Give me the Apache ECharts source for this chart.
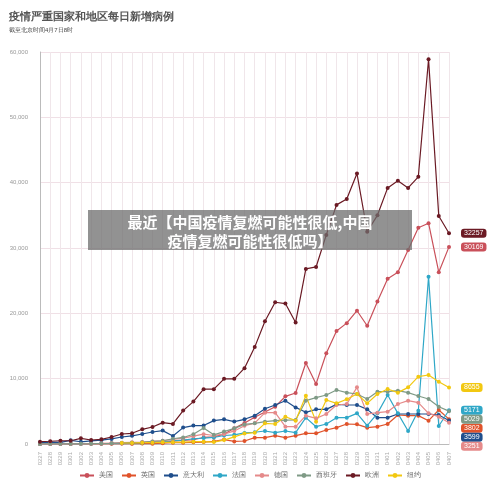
<!DOCTYPE html>
<html><head><meta charset="utf-8">
<script src="https://cdn.jsdelivr.net/npm/echarts@6/dist/echarts.min.js"></script>
<style>html,body{margin:0;padding:0;background:#fff}#c{width:500px;height:490px}</style>
</head><body><div id="c"></div>
<script>
const dates = ['0227','0228','0229','0301','0302','0303','0304','0305','0306','0307','0308','0309','0310','0311','0312','0313','0314','0315','0316','0317','0318','0319','0320','0321','0322','0323','0324','0325','0326','0327','0328','0329','0330','0331','0401','0402','0403','0404','0405','0406','0407'];
const usa = [5,3,8,10,20,25,35,60,70,90,120,230,290,420,560,650,1000,1100,1500,2400,3200,4100,4900,5700,7300,7800,12400,9200,13900,17300,18500,20400,18100,21800,25300,26300,29700,33100,33800,26300,30169];
const uk = [0,5,10,15,30,40,30,50,60,50,60,50,130,200,210,250,300,410,670,400,460,970,970,1280,970,1280,1630,1630,2140,2500,3060,3010,2500,2650,3060,4440,4340,4340,3570,5200,3802];
const italy = [200,300,240,560,340,470,590,780,1070,1250,1530,1840,2050,1230,2510,2820,2820,3580,3780,3430,3780,4340,5400,5970,6630,5600,4850,5300,5300,6070,5970,5970,5300,4030,4030,4590,4590,4590,4590,4440,3599];
const france = [10,20,20,40,20,60,80,100,130,180,200,280,370,500,600,800,900,1000,1300,1400,1700,1800,1990,1730,1990,1730,4030,2650,3060,4030,4030,4690,2810,4690,7500,4690,1990,5100,25600,2760,5171];
const germany = [10,20,30,40,50,70,100,150,200,250,300,400,500,700,900,1200,1500,1300,1500,2000,2800,3200,4800,4800,2650,2650,4340,3930,4590,5970,6120,8670,4590,4800,4950,6120,6630,6330,4690,4180,3251];
const spain = [10,20,20,30,40,50,80,100,150,200,250,400,500,800,1000,1500,2450,1400,1900,2400,3000,3160,3420,3570,3650,3670,6630,7090,7500,8270,7860,7650,6890,8010,8010,8160,7860,7350,6890,5710,5029];
const europe = [350,420,500,500,870,610,720,1070,1530,1640,2250,2600,3270,3070,5110,6490,8390,8390,9970,9970,11610,14830,18800,21700,21500,18600,26800,27100,32000,36600,37500,41400,32500,35000,39200,40300,39200,40900,58900,34900,32257];
const newyork = [null,null,null,null,null,null,null,null,150,150,200,200,250,250,300,350,350,300,600,1100,1600,1730,3160,3060,4180,3570,7400,3420,6730,6220,6840,7650,6220,7650,8420,7860,8670,10300,10560,9540,8655];
const names = ['美国','英国','意大利','法国','德国','西班牙','欧洲','纽约'];
const colors = ['#c9505a','#e0532b','#1f4e8c','#2fa7c7','#e58a8a','#7f9a86','#6b1a24','#f2c811'];
const datas = [usa,uk,italy,france,germany,spain,europe,newyork];

const chart = echarts.init(document.getElementById('c'));
chart.setOption({
  animation:false,
  title:{text:'疫情严重国家和地区每日新增病例',subtext:'截至北京时间4月7日8时',left:4,top:6,itemGap:5,
    textStyle:{fontSize:11,fontWeight:'bold',color:'#555'},subtextStyle:{fontSize:6,color:'#444'}},
  legend:{bottom:6,left:'center',itemWidth:14,itemHeight:6,itemGap:8,textStyle:{fontSize:7,color:'#666'},data:names},
  grid:{left:40,right:51,top:52,bottom:46},
  xAxis:{type:'category',data:dates,boundaryGap:false,
    axisLine:{lineStyle:{color:'#bbb'}},axisTick:{show:false},
    axisLabel:{rotate:90,fontSize:6,color:'#aaa',interval:0},
    splitLine:{show:true,lineStyle:{color:'#f0e6ea'}}},
  yAxis:{type:'value',min:0,max:60000,interval:10000,
    axisLine:{show:true,lineStyle:{color:'#bbb'}},axisTick:{show:false},
    axisLabel:{fontSize:6,color:'#999',margin:12},
    splitLine:{lineStyle:{color:'#f0e0e6'}}},
  series:names.map((n,k)=>({name:n,type:'line',data:datas[k],symbol:'circle',symbolSize:4,
    itemStyle:{color:colors[k]},lineStyle:{width:1.2},
    endLabel:{show:true,distance:12,formatter:p=>p.value,color:'#fff',fontSize:7,backgroundColor:colors[k],borderRadius:3,padding:[1,3]},
    labelLayout:{moveOverlap:'shiftY'}})),
  graphic:[
    {type:'rect',left:88,top:210,shape:{width:324,height:40},style:{fill:'rgba(110,110,110,0.75)'},z:100},
    {type:'text',left:'center',top:213,style:{text:'最近【中国疫情复燃可能性很低,中国\n疫情复燃可能性很低吗】',fill:'#fff',font:'bold 15px "Noto Sans CJK SC"',textAlign:'center',lineHeight:19},z:101}
  ]
});
</script></body></html>
